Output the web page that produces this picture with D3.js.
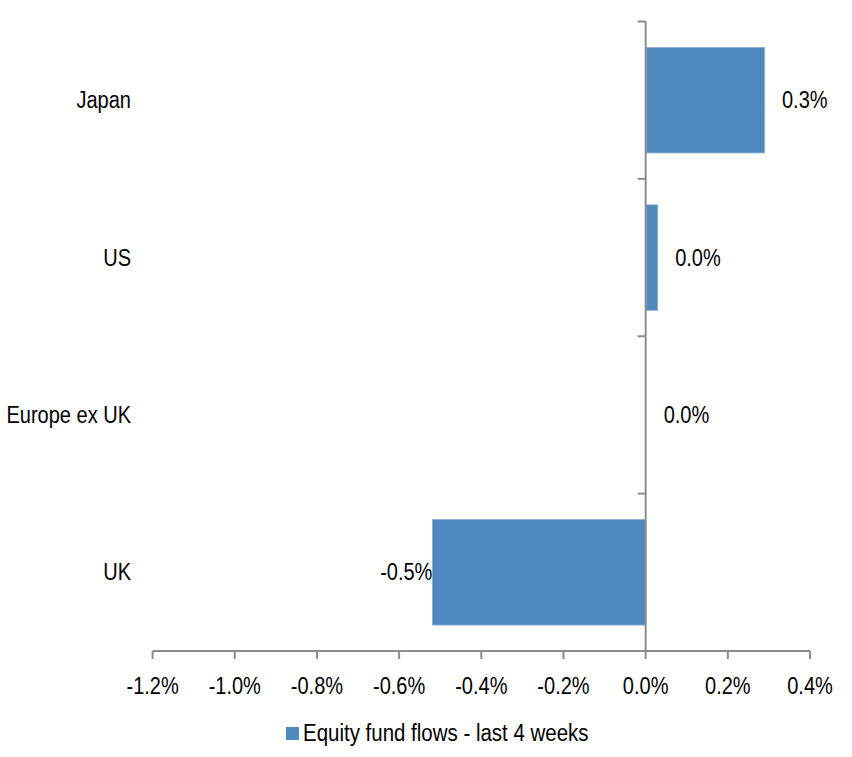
<!DOCTYPE html>
<html><head><meta charset="utf-8">
<script src="https://cdn.jsdelivr.net/npm/d3@7"></script>
<style>body{margin:0;background:#fff} text{font-family:"Liberation Sans",Arial,sans-serif;fill:#000}</style>
</head><body><svg id="c" width="852" height="757"></svg>
<script>
const categories = ["Japan", "US", "Europe ex UK", "UK"];
const values = [0.288, 0.028, 0.0, -0.519];
const xTicks = [-1.2, -1.0, -0.8, -0.6, -0.4, -0.2, 0.0, 0.2, 0.4];
const seriesName = "Equity fund flows - last 4 weeks";

const svg = d3.select("#c");
const FS = 23, SX = 0.87;
const loc = d3.formatLocale({decimal: ".", thousands: ",", grouping: [3], currency: ["", ""], minus: "-"});
const fmt = v => loc.format(".1f")(v) + "%";
const axisColor = "#8c8c8c";
const barFill = "#4e8abe", barStroke = "#86abd4";

const x = d3.scaleLinear().domain([-1.2, 0.4]).range([152.6, 810]);
const y = d3.scaleBand().domain(categories).range([21.5, 651]).paddingInner(0.33).paddingOuter(0.165);

function label(g, tx, ty, txt, anchor, sx) {
  return g.append("text").attr("transform", `translate(${tx},${ty}) scale(${sx || SX},1)`)
    .attr("text-anchor", anchor).style("font-size", FS + "px").text(txt);
}

// bars
svg.append("g").selectAll("rect").data(categories.filter((d, i) => values[i] !== 0)).join("rect")
  .attr("x", d => { const v = values[categories.indexOf(d)]; return Math.min(x(0), x(v)) + (v >= 0 ? 0.5 : 0); })
  .attr("y", d => y(d))
  .attr("width", d => Math.abs(x(values[categories.indexOf(d)]) - x(0)))
  .attr("height", y.bandwidth())
  .attr("fill", barFill).attr("stroke", barStroke).attr("stroke-width", 0.8);

// x axis
const gx = svg.append("g");
gx.append("line").attr("x1", x(-1.2)).attr("x2", x(0.4)).attr("y1", 651).attr("y2", 651)
  .attr("stroke", axisColor).attr("stroke-width", 2);
xTicks.forEach(t => {
  gx.append("line").attr("x1", x(t)).attr("x2", x(t)).attr("y1", 651).attr("y2", 659)
    .attr("stroke", axisColor).attr("stroke-width", 2);
  label(gx, x(t), 694, fmt(t), "middle");
});

// y axis at zero
const gy = svg.append("g");
gy.append("line").attr("x1", x(0)).attr("x2", x(0)).attr("y1", 21.5).attr("y2", 651)
  .attr("stroke", axisColor).attr("stroke-width", 2);
const bounds = categories.map(c => y(c) - y.step() * y.paddingInner() / 2).concat([651]);
bounds.forEach(b => {
  gy.append("line").attr("x1", x(0) - 8).attr("x2", x(0)).attr("y1", b).attr("y2", b)
    .attr("stroke", axisColor).attr("stroke-width", 2);
});
categories.forEach(c => label(gy, 131, y(c) + y.bandwidth() / 2 + 8, c, "end"));

// data labels
categories.forEach((c, i) => {
  const v = values[i];
  const cy = y(c) + y.bandwidth() / 2 + 8;
  if (v >= 0) label(svg, x(v) + 18, cy, fmt(v), "start");
  else label(svg, x(v), cy, fmt(v), "end");
});

// legend
svg.append("rect").attr("x", 286).attr("y", 727).attr("width", 13).attr("height", 13).attr("fill", barFill);
label(svg, 303, 741, seriesName, "start", 0.89);
</script></body></html>
